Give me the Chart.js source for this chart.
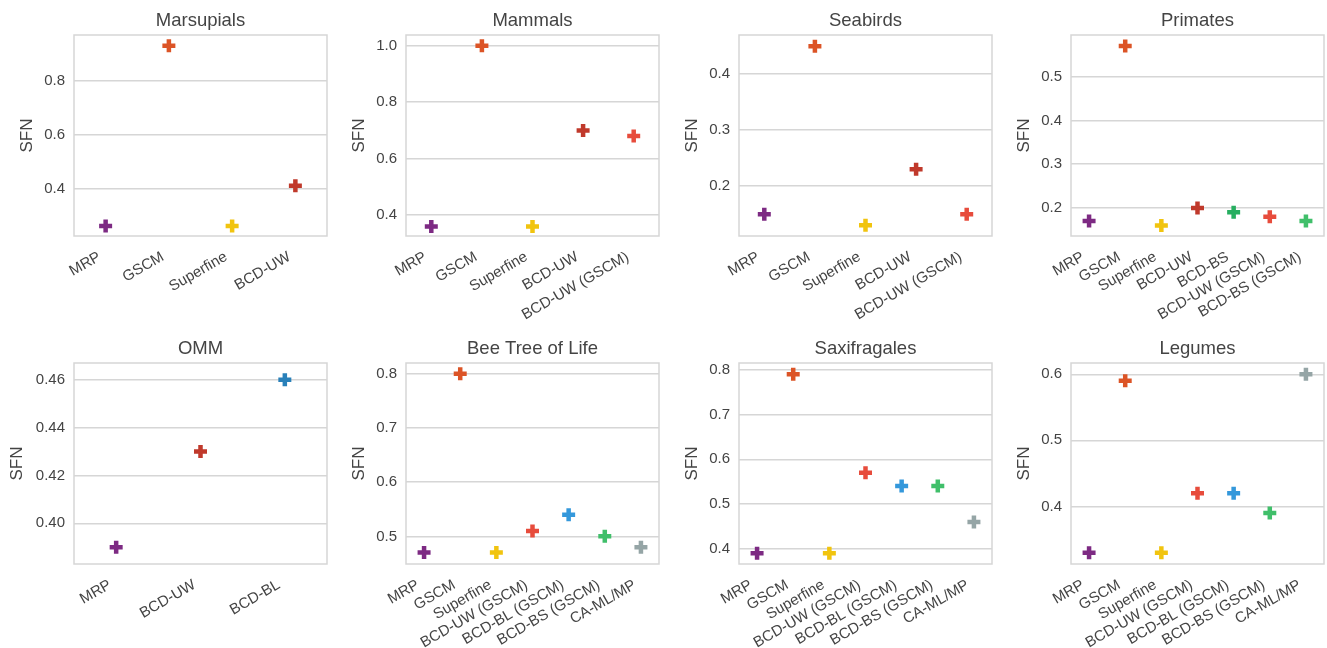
<!DOCTYPE html>
<html>
<head>
<meta charset="utf-8">
<title>SFN by method</title>
<script src="https://cdn.jsdelivr.net/npm/chart.js@4.4.1/dist/chart.umd.min.js"></script>
<style>
  html, body { margin: 0; padding: 0; background: #fff; }
  #page { position: relative; width: 1327px; height: 648px; overflow: hidden; }
  .panel { position: absolute; width: 401px; height: 320px; }
</style>
</head>
<body>
<div id="page"></div>
<script>
// SFN per method, one small panel per dataset

const marsupialsMethods = ['MRP', 'GSCM', 'Superfine', 'BCD-UW'];
const marsupialsSfn = [0.26, 0.93, 0.26, 0.41];
const marsupialsTicks = [0.4, 0.6, 0.8];
const marsupialsRange = [0.223, 0.970];

const mammalsMethods = ['MRP', 'GSCM', 'Superfine', 'BCD-UW', 'BCD-UW (GSCM)'];
const mammalsSfn = [0.36, 1.0, 0.36, 0.70, 0.68];
const mammalsTicks = [0.4, 0.6, 0.8, 1.0];
const mammalsRange = [0.326, 1.038];

const seabirdsMethods = ['MRP', 'GSCM', 'Superfine', 'BCD-UW', 'BCD-UW (GSCM)'];
const seabirdsSfn = [0.15, 0.45, 0.13, 0.23, 0.15];
const seabirdsTicks = [0.2, 0.3, 0.4];
const seabirdsRange = [0.111, 0.470];

const primatesMethods = ['MRP', 'GSCM', 'Superfine', 'BCD-UW', 'BCD-BS', 'BCD-UW (GSCM)', 'BCD-BS (GSCM)'];
const primatesSfn = [0.17, 0.57, 0.16, 0.20, 0.19, 0.18, 0.17];
const primatesTicks = [0.2, 0.3, 0.4, 0.5];
const primatesRange = [0.136, 0.595];

const ommMethods = ['MRP', 'BCD-UW', 'BCD-BL'];
const ommSfn = [0.39, 0.43, 0.46];
const ommTicks = [0.40, 0.42, 0.44, 0.46];
const ommRange = [0.383, 0.467];

const beeMethods = ['MRP', 'GSCM', 'Superfine', 'BCD-UW (GSCM)', 'BCD-BL (GSCM)', 'BCD-BS (GSCM)', 'CA-ML/MP'];
const beeSfn = [0.47, 0.80, 0.47, 0.51, 0.54, 0.50, 0.48];
const beeTicks = [0.5, 0.6, 0.7, 0.8];
const beeRange = [0.449, 0.820];

const saxMethods = ['MRP', 'GSCM', 'Superfine', 'BCD-UW (GSCM)', 'BCD-BL (GSCM)', 'BCD-BS (GSCM)', 'CA-ML/MP'];
const saxSfn = [0.39, 0.79, 0.39, 0.57, 0.54, 0.54, 0.46];
const saxTicks = [0.4, 0.5, 0.6, 0.7, 0.8];
const saxRange = [0.366, 0.815];

const legumesMethods = ['MRP', 'GSCM', 'Superfine', 'BCD-UW (GSCM)', 'BCD-BL (GSCM)', 'BCD-BS (GSCM)', 'CA-ML/MP'];
const legumesSfn = [0.33, 0.59, 0.33, 0.42, 0.42, 0.39, 0.60];
const legumesTicks = [0.4, 0.5, 0.6];
const legumesRange = [0.313, 0.617];

// one colour per method
const methodColors = {
  'MRP': '#7d2a83',
  'GSCM': '#dc5426',
  'Superfine': '#f1c40f',
  'BCD-UW': '#c0392b',
  'BCD-UW (GSCM)': '#e74c3c',
  'BCD-BS': '#27ae60',
  'BCD-BS (GSCM)': '#40bf6a',
  'BCD-BL': '#2980b9',
  'BCD-BL (GSCM)': '#3498db',
  'CA-ML/MP': '#95a5a6'
};

const panels = [
  { title: 'Marsupials', methods: marsupialsMethods, sfn: marsupialsSfn, ticks: marsupialsTicks, range: marsupialsRange },
  { title: 'Mammals', methods: mammalsMethods, sfn: mammalsSfn, ticks: mammalsTicks, range: mammalsRange },
  { title: 'Seabirds', methods: seabirdsMethods, sfn: seabirdsSfn, ticks: seabirdsTicks, range: seabirdsRange },
  { title: 'Primates', methods: primatesMethods, sfn: primatesSfn, ticks: primatesTicks, range: primatesRange },
  { title: 'OMM', methods: ommMethods, sfn: ommSfn, ticks: ommTicks, range: ommRange, decimals: 2 },
  { title: 'Bee Tree of Life', methods: beeMethods, sfn: beeSfn, ticks: beeTicks, range: beeRange },
  { title: 'Saxifragales', methods: saxMethods, sfn: saxSfn, ticks: saxTicks, range: saxRange },
  { title: 'Legumes', methods: legumesMethods, sfn: legumesSfn, ticks: legumesTicks, range: legumesRange }
];

const TEXT = '#444444';
const GRID = '#d6d6d6';
const colLefts = [0, 332, 665, 997];
const rowTops = [0, 328];

Chart.defaults.font.family = '"Liberation Sans", Arial, sans-serif';
Chart.defaults.color = TEXT;

// light frame round the plot area
const frame = {
  id: 'frame',
  afterDraw(chart) {
    const a = chart.chartArea;
    const ctx = chart.ctx;
    ctx.save();
    ctx.strokeStyle = GRID;
    ctx.lineWidth = 1.5;
    ctx.strokeRect(a.left, a.top, a.right - a.left, a.bottom - a.top);
    ctx.restore();
  }
};

const page = document.getElementById('page');

panels.forEach((p, i) => {
  const canvas = document.createElement('canvas');
  canvas.className = 'panel';
  canvas.width = 401;
  canvas.height = 320;
  canvas.style.left = colLefts[i % 4] + 'px';
  canvas.style.top = rowTops[Math.floor(i / 4)] + 'px';
  page.appendChild(canvas);

  const dec = p.decimals || 1;
  const colors = p.methods.map(m => methodColors[m]);

  new Chart(canvas, {
    type: 'line',
    data: {
      labels: p.methods,
      datasets: [{
        data: p.sfn,
        showLine: false,
        pointStyle: 'cross',
        pointRadius: 6.5,
        pointBorderWidth: 4.5,
        pointBorderColor: colors,
        pointBackgroundColor: colors
      }]
    },
    options: {
      responsive: false,
      animation: false,
      devicePixelRatio: 1,
      layout: { padding: 0 },
      plugins: {
        legend: { display: false },
        tooltip: { enabled: false },
        title: {
          display: true,
          text: p.title,
          color: TEXT,
          font: { size: 18.5, weight: 'normal' },
          padding: { top: 9.5, bottom: 3.3 }
        }
      },
      scales: {
        x: {
          type: 'category',
          offset: true,
          grid: { display: false, drawTicks: false },
          border: { display: false },
          ticks: {
            autoSkip: false,
            minRotation: 30,
            maxRotation: 30,
            padding: 12,
            labelOffset: -6,
            color: TEXT,
            font: { size: 15 }
          },
          afterFit: s => { s.height = 84; }
        },
        y: {
          type: 'linear',
          position: 'left',
          min: p.range[0],
          max: p.range[1],
          grid: { color: GRID, lineWidth: 1.4, drawTicks: false },
          border: { display: false },
          afterBuildTicks: s => { s.ticks = p.ticks.map(v => ({ value: v })); },
          ticks: {
            padding: 9,
            color: TEXT,
            font: { size: 15 },
            callback: v => Number(v).toFixed(dec)
          },
          title: {
            display: true,
            text: 'SFN',
            color: TEXT,
            font: { size: 17 },
            padding: { top: dec === 2 ? 7.3 : 16.8, bottom: 0 }
          },
          afterFit: s => { s.width = 74; }
        },
        // empty right-hand axis so the title centres over the plot
        yr: {
          type: 'linear',
          position: 'right',
          grid: { display: false, drawTicks: false },
          border: { display: false },
          ticks: { display: false },
          afterFit: s => { s.width = 74; }
        }
      }
    },
    plugins: [frame]
  });
});
</script>
</body>
</html>
